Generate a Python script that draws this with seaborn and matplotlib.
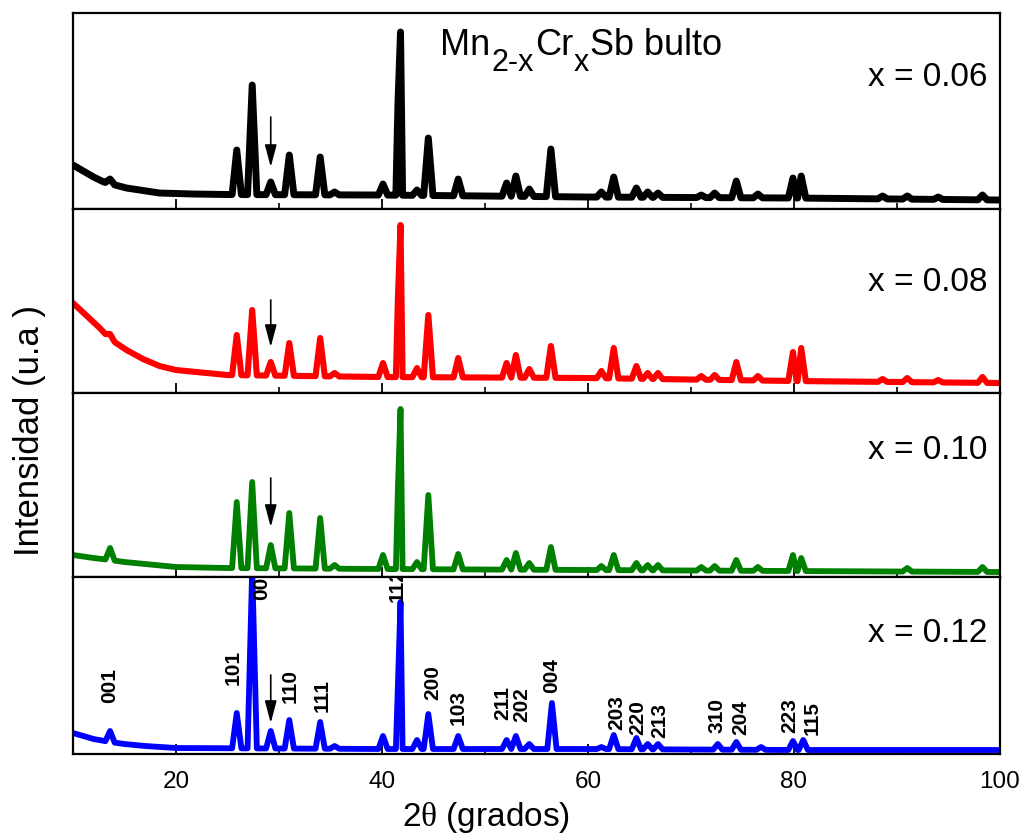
import numpy as np
import matplotlib
matplotlib.use("Agg")
import matplotlib.pyplot as plt
import seaborn as sns

sns.set_theme(style="white")
plt.rcParams["font.family"] = ["Liberation Sans", "DejaVu Sans"]
plt.rcParams["mathtext.fontset"] = "custom"
plt.rcParams["mathtext.rm"] = "Liberation Serif"
plt.rcParams["mathtext.sf"] = "Liberation Sans"
plt.rcParams["mathtext.it"] = "Liberation Sans:italic"

# ---------------- data ----------------
samples = ["x = 0.06", "x = 0.08", "x = 0.10", "x = 0.12"]
colors = ["black", "red", "green", "blue"]

# x = 0.06
bg_pos_006 = [10, 11, 12, 13, 15.2, 18.4, 21.7, 25, 40, 60, 80, 100]
bg_int_006 = [44, 38, 32, 27, 21, 16, 15, 14.5, 14, 12, 11, 9]
pk_pos_006 = [13.6, 25.9, 27.4, 29.2, 31.0, 34.0, 35.4, 40.1, 41.55, 41.8, 43.4, 44.5,
              47.4, 52.1, 53.0, 54.3, 56.4, 61.3, 62.5, 64.7, 65.8, 66.8, 71.0, 72.3,
              74.4, 76.5, 79.9, 80.7, 88.6, 91.0, 94.0, 98.3]
pk_int_006 = [30, 59, 124, 27, 54, 52, 17, 25, 105, 177, 19, 71,
              30, 26, 33, 20, 60, 17, 32, 21, 17, 16, 14, 16,
              28, 15, 31, 33, 13, 13, 12, 14]

# x = 0.08
bg_pos_008 = [10, 12.6, 13.6, 15.2, 16.8, 18.4, 20, 23, 25, 40, 60, 80, 100]
bg_int_008 = [90, 65, 54, 43, 34, 27, 23, 20, 18, 16, 15, 12, 10]
pk_pos_008 = [13.6, 25.9, 27.4, 29.2, 31.0, 34.0, 35.4, 40.1, 41.55, 41.8, 43.4, 44.5,
              47.4, 52.1, 53.0, 54.3, 56.4, 61.3, 62.5, 64.7, 65.8, 66.8, 71.0, 72.3,
              74.4, 76.5, 79.9, 80.7, 88.6, 91.0, 94.0, 98.3]
pk_int_008 = [59, 58, 83, 31, 50, 55, 20, 30, 96, 168, 25, 78,
              35, 30, 38, 24, 47, 22, 45, 27, 20, 20, 17, 18,
              31, 17, 41, 45, 14, 15, 13, 16]

# x = 0.10
bg_pos_010 = [10, 12, 13.6, 15, 18, 20, 25, 40, 60, 80, 100]
bg_int_010 = [22, 19, 17, 15, 12, 10, 9, 8, 7, 6, 5]
pk_pos_010 = [13.6, 25.9, 27.4, 29.2, 31.0, 34.0, 35.4, 40.1, 41.55, 41.8, 43.4, 44.5,
              47.4, 52.1, 53.0, 54.3, 56.4, 61.3, 62.5, 64.7, 65.8, 66.8, 71.0, 72.3,
              74.4, 76.5, 79.9, 80.7, 91.0, 98.3]
pk_int_010 = [29, 75, 95, 32, 64, 59, 12, 22, 90, 168, 15, 82,
              23, 17, 24, 14, 30, 11, 22, 14, 12, 12, 10, 11,
              17, 10, 22, 19, 9, 10]

# x = 0.12
bg_pos_012 = [10, 11, 12, 13.6, 15, 17, 20, 40, 60, 80, 100]
bg_int_012 = [21, 18, 15, 12, 10, 8, 6, 5, 5, 4, 4]
pk_pos_012 = [13.6, 25.9, 27.4, 29.2, 31.0, 34.0, 35.4, 40.1, 41.55, 41.8, 43.4, 44.5,
              47.4, 52.1, 53.0, 54.3, 56.5, 61.3, 62.5, 64.7, 65.8, 66.8, 72.6, 74.4,
              76.8, 79.9, 80.9]
pk_int_012 = [23, 41, 185, 23, 34, 32, 8, 18, 70, 152, 14, 40,
              18, 14, 18, 10, 51, 7, 19, 16, 10, 10, 10, 12,
              7, 13, 14]

# Miller indices of the x = 0.12 reflections
hkl_text = ["001", "101", "002", "110", "111", "112", "200", "103", "211", "202",
            "004", "203", "220", "213", "310", "204", "223", "115"]
hkl_pos = [13.6, 25.5, 28.3, 31.1, 34.2, 41.5, 44.95, 47.4, 51.7, 53.6,
           56.5, 62.8, 64.8, 67.0, 72.5, 74.8, 79.6, 81.8]
hkl_int = [51, 69, 154, 51, 42, 152, 54, 29, 34, 32,
           61, 24, 19, 16, 21, 19, 21, 19]

# unindexed reflection marked by an arrow (2θ, arrow tail, arrow head)
extra_pos = 29.2
arrow_tail = [92, 93, 99, 79]
arrow_head = [42, 46, 50, 31]

backgrounds = [(bg_pos_006, bg_int_006), (bg_pos_008, bg_int_008),
               (bg_pos_010, bg_int_010), (bg_pos_012, bg_int_012)]
peaks = [(pk_pos_006, pk_int_006), (pk_pos_008, pk_int_008),
         (pk_pos_010, pk_int_010), (pk_pos_012, pk_int_012)]

HALF_WIDTH = 0.45


def pattern(bg_pos, bg_int, pk_pos, pk_int):
    """Vertices of a diffractogram: background knots plus one spike per reflection."""
    bx = np.asarray(bg_pos, float)
    by = np.asarray(bg_int, float)
    px = np.asarray(pk_pos, float)
    py = np.asarray(pk_int, float)
    keep = np.array([np.all(np.abs(v - px) > HALF_WIDTH) for v in bx])
    left = px - HALF_WIDTH
    right = px + HALF_WIDTH
    x = np.concatenate([bx[keep], left, px, right])
    y = np.concatenate([by[keep], np.interp(left, bx, by), py, np.interp(right, bx, by)])
    order = np.argsort(x, kind="stable")
    return x[order], y[order]


# ---------------- figure ----------------
panel_span = [196, 184, 184, 177]
fig = plt.figure(figsize=(10.25, 8.35), dpi=100)
gs = fig.add_gridspec(4, 1, height_ratios=panel_span, hspace=0,
                      left=0.0712, right=0.9756, top=0.9844, bottom=0.097)
axes = [fig.add_subplot(gs[i]) for i in range(4)]

label_y = [0.67, 0.60, 0.685, 0.68]
line_w = [5.0, 4.4, 4.2, 4.2]

for i, ax in enumerate(axes):
    x, y = pattern(*backgrounds[i], *peaks[i])
    sns.lineplot(x=x, y=y, ax=ax, color=colors[i], linewidth=line_w[i],
                 estimator=None, sort=False, solid_joinstyle="round",
                 solid_capstyle="round")
    ax.set_xlim(10, 100)
    ax.set_ylim(0, panel_span[i])
    ax.set_yticks([])
    ax.set_xticks([20, 40, 60, 80, 100])
    ax.set_xticks([10, 30, 50, 70, 90], minor=True)
    ax.tick_params(axis="x", which="major", direction="in", length=7, width=1.3,
                   color="black", labelcolor="black", labelsize=17.5, pad=12,
                   bottom=True)
    ax.tick_params(axis="x", which="minor", direction="in", length=4, width=1.2,
                   color="black", bottom=True)
    if i < 3:
        ax.tick_params(axis="x", which="both", labelbottom=False)
    ax.set_xlabel("")
    ax.set_ylabel("")
    for sp in ax.spines.values():
        sp.set_visible(True)
        sp.set_color("black")
        sp.set_linewidth(1.6)
    ax.text(0.986, label_y[i], samples[i], transform=ax.transAxes,
            ha="right", va="center", fontsize=24, color="black")
    ax.annotate("", xy=(extra_pos, arrow_head[i]), xytext=(extra_pos, arrow_tail[i]),
                arrowprops=dict(arrowstyle="-|>,head_length=0.75,head_width=0.2",
                                color="black", lw=1.2, shrinkA=0, shrinkB=0,
                                mutation_scale=18))

for t, xp, yp in zip(hkl_text, hkl_pos, hkl_int):
    axes[3].text(xp, yp, t, rotation=90, ha="center", va="bottom",
                 fontsize=15, fontweight="bold", color="black", clip_on=True)

fig.text(0.029, 0.484, "Intensidad (u.a )", rotation=90, ha="center", va="center",
         fontsize=25, color="black")
fig.text(0.474, 0.021, r"2$\mathrm{\theta}$ (grados)", ha="center", va="center",
         fontsize=24, color="black")

# compound name with subscripts, written piece by piece along one baseline
fig.canvas.draw()
renderer = fig.canvas.get_renderer()
fig_w = fig.get_figwidth() * fig.dpi
fig_h = fig.get_figheight() * fig.dpi
x_cur, y_base = axes[0].transAxes.transform((0.396, 0.786))
title_pieces = [("Mn", 26, 0), ("2-x", 22, 16), ("Cr", 26, 0), ("x", 22, 16),
                ("Sb bulto", 26, 0)]
for s, size, drop in title_pieces:
    t = fig.text(x_cur / fig_w, (y_base - drop) / fig_h, s, fontsize=size,
                 ha="left", va="baseline", color="black")
    x_cur += t.get_window_extent(renderer).width + 1

fig.savefig("out.png", dpi=100)
